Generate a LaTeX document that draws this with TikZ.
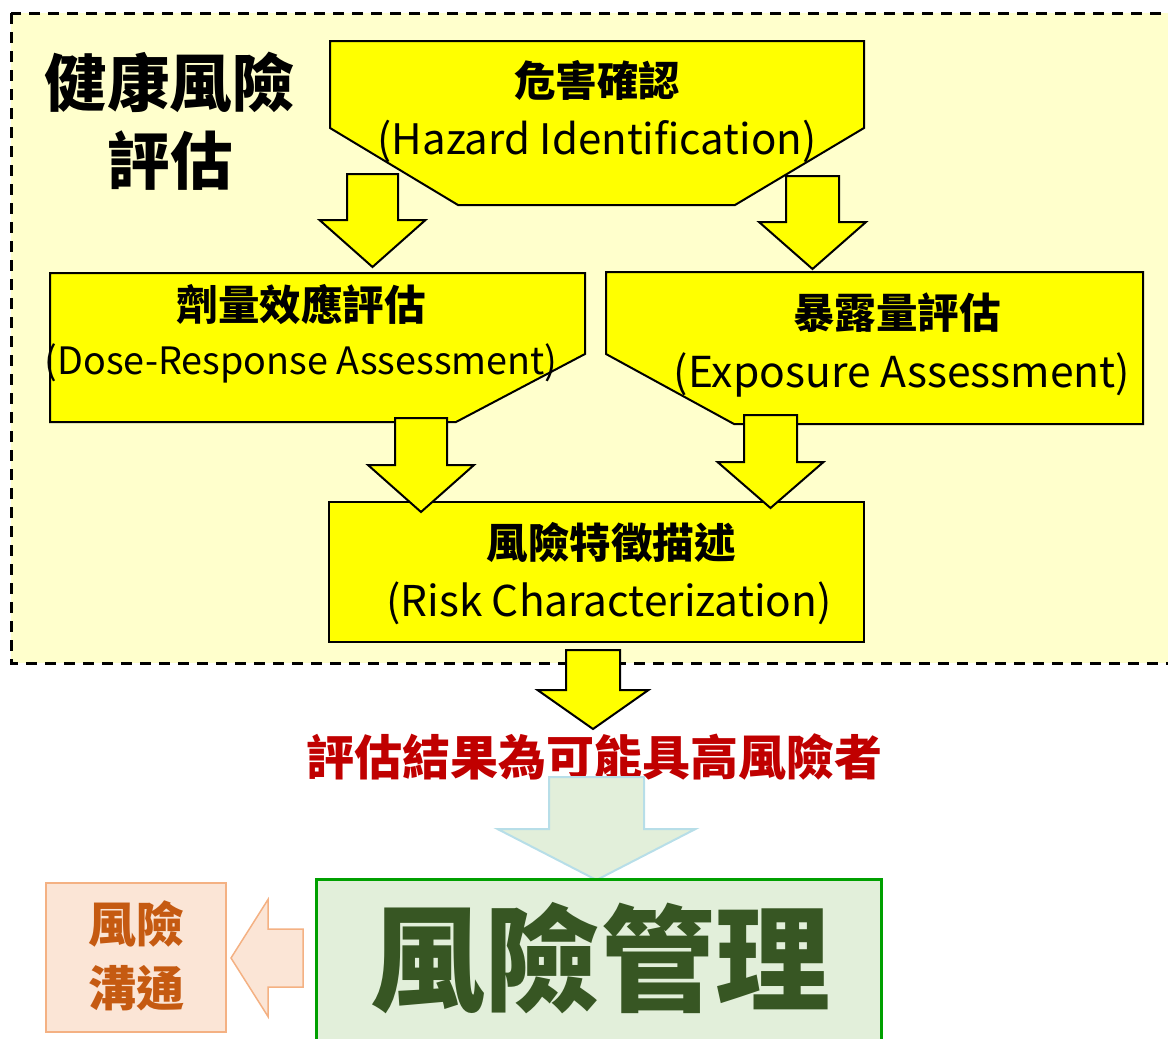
\documentclass[tikz,border=0pt]{standalone}
\usepackage{fontspec}
\setmainfont{Noto Sans CJK TC}
\usetikzlibrary{positioning}

\definecolor{assessbg}{HTML}{FFFFCC}
\definecolor{stageyellow}{HTML}{FFFF00}
\definecolor{resultred}{HTML}{C00000}
\definecolor{mgmtfill}{HTML}{E2EFDA}
\definecolor{mgmtline}{HTML}{00A000}
\definecolor{mgmttext}{HTML}{375623}
\definecolor{mgmtarrow}{HTML}{B7DEE8}
\definecolor{commfill}{HTML}{FBE5D6}
\definecolor{commline}{HTML}{F4B183}
\definecolor{commtext}{HTML}{C55A11}

\tikzstyle{assess}=[draw=black,
                    line width=3pt,
                    dash pattern=on 11pt off 8pt,
                    fill=assessbg]
\tikzstyle{stage}=[draw=black,
                   line width=2pt,
                   fill=stageyellow]
\tikzstyle{yarrow}=[draw=black,
                    line width=2pt,
                    line join=miter,
                    fill=stageyellow]
\tikzstyle{zh}=[inner sep=0pt,
                font=\fontsize{41.5}{48}\selectfont\bfseries]
\tikzstyle{en}=[inner sep=0pt]

% block arrow pointing down: [style]{x}{top}{head}{tip}{shaft half}{head half}
\newcommand{\downblock}[7][]{%
  \draw[#1] (#2-#6,#3) -- (#2+#6,#3) -- (#2+#6,#4) -- (#2+#7,#4)
    -- (#2,#5) -- (#2-#7,#4) -- (#2-#6,#4) -- cycle;}

\begin{document}
\begin{tikzpicture}[x=1pt,y=-1pt,>=latex]
  \useasboundingbox (0,0) rectangle (1168,1039);

  % The health risk assessment area:
  \draw[assess] (11,13) rectangle (1190,663);
  \node (title) [align=center, inner sep=0pt,
        font=\fontsize{62.5}{78}\selectfont\bfseries] at (170,121) {健康風險\\評估};

  % The four assessment stages:
  \draw[stage] (330,41) -- (864,41) -- (864,128) -- (735,205) -- (458,205) -- (330,128) -- cycle;
  \node (hazzh) [zh] at (597,80) {危害確認};
  \node (hazen) [en, font=\fontsize{42}{50}\selectfont] at (597,141) {(Hazard Identification)};

  \draw[stage] (50,273) -- (585,273) -- (585,354) -- (456,422) -- (50,422) -- cycle;
  \node (dosezh) [zh] at (301,305) {劑量效應評估};
  \node (doseen) [en, font=\fontsize{37.7}{45}\selectfont] at (301,363) {(Dose-Response Assessment)};

  \draw[stage] (606,272) -- (1143,272) -- (1143,424) -- (734,424) -- (606,354) -- cycle;
  \node (expzh) [zh] at (897,313) {暴露量評估};
  \node (expen) [en, font=\fontsize{42.6}{50}\selectfont] at (902,375) {(Exposure Assessment)};

  \draw[stage] (329,502) rectangle (864,642);
  \node (riskzh) [zh] at (611,542) {風險特徵描述};
  \node (risken) [en, font=\fontsize{42.4}{50}\selectfont] at (609,603) {(Risk Characterization)};

  % The arrows between the stages:
  \downblock[yarrow]{372.5}{174}{220}{267}{25.5}{53}
  \downblock[yarrow]{812.5}{176}{222}{269}{26.5}{53.5}
  \downblock[yarrow]{421}{418}{465}{512}{26}{53}
  \downblock[yarrow]{770.5}{415}{462}{508}{26.5}{53}
  \downblock[yarrow]{593}{650}{690}{729}{27}{55.5}

  % Result of the assessment:
  \node (result) [inner sep=0pt, text=resultred,
        font=\fontsize{48}{56}\selectfont\bfseries] at (594,757) {評估結果為可能具高風險者};
  \downblock[draw=mgmtarrow, line width=2pt, fill=mgmtfill]{596.5}{777}{829}{880}{47.5}{99}

  % Risk management and risk communication:
  \draw[draw=mgmtline, line width=3pt, fill=mgmtfill] (316,879) rectangle (881,1070);
  \node (mgmt) [inner sep=0pt, text=mgmttext,
        font=\fontsize{115}{130}\selectfont\bfseries] at (600,958) {風險管理};

  \draw[draw=commline, line width=1.5pt, fill=commfill] (46,883) rectangle (226,1032);
  \node (comm) [align=center, inner sep=0pt, text=commtext,
        font=\fontsize{48}{64}\selectfont\bfseries] at (136,956) {風險\\溝通};

  \draw[draw=commline, line width=1.5pt, fill=commfill]
    (303,929) -- (303,987) -- (268,987) -- (268,1016.5) -- (231,958)
    -- (268,899.5) -- (268,929) -- cycle;

\end{tikzpicture}
\end{document}
